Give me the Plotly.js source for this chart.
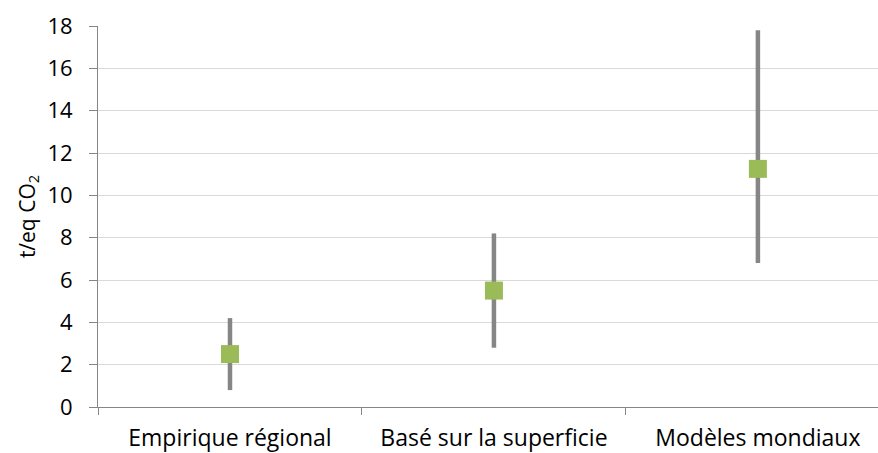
<!DOCTYPE html>
<html>
<head>
<meta charset="utf-8">
<script src="https://cdn.plot.ly/plotly-3.0.1.min.js"></script>
<style>
  html, body { margin: 0; padding: 0; background: #fff; }
  #chart { width: 878px; height: 453px; }
</style>
</head>
<body>
<div id="chart"></div>
<script>
// Estimates of t/eq CO2 by method: central value with low/high range
const categories = ['Empirique régional', 'Basé sur la superficie', 'Modèles mondiaux'];
const central = [2.5, 5.5, 11.25];
const low = [0.8, 2.8, 6.8];
const high = [4.2, 8.2, 17.8];
const yTicks = [0, 2, 4, 6, 8, 10, 12, 14, 16, 18];

const font = '"Open Sans", Lato, "Liberation Sans", sans-serif';

const trace = {
  type: 'scatter',
  mode: 'markers',
  x: categories,
  y: central,
  marker: { symbol: 'square', size: 18, color: '#9BBB59', line: { width: 0 } },
  error_y: {
    type: 'data',
    symmetric: false,
    array: high.map((h, i) => h - central[i]),
    arrayminus: central.map((c, i) => c - low[i]),
    color: '#868686',
    thickness: 4.5,
    width: 0
  },
  hoverinfo: 'x+y'
};

const layout = {
  width: 878,
  height: 453,
  margin: { l: 98, r: 0, t: 26, b: 46 },
  paper_bgcolor: '#ffffff',
  plot_bgcolor: '#ffffff',
  showlegend: false,
  font: { family: font, size: 22, color: '#000' },
  xaxis: {
    type: 'category',
    range: [-0.5, 2.455],
    showgrid: false,
    zeroline: false,
    showline: true,
    linecolor: '#868686',
    linewidth: 1,
    ticks: 'outside',
    tickson: 'boundaries',
    ticklen: 7,
    tickcolor: '#868686',
    ticklabelstandoff: 10,
    tickfont: { family: font, size: 23, color: '#000' }
  },
  yaxis: {
    range: [0, 18],
    tickvals: yTicks,
    showgrid: true,
    gridcolor: '#D9D9D9',
    gridwidth: 1,
    zeroline: false,
    showline: true,
    linecolor: '#868686',
    linewidth: 1,
    ticks: 'outside',
    ticklen: 8,
    tickcolor: '#868686',
    ticklabelstandoff: 12,
    tickfont: { family: font, size: 22, color: '#000' },
    title: { text: 't/eq CO<sub>2</sub>', font: { family: font, size: 21, color: '#000' }, standoff: 6 }
  }
};

Plotly.newPlot('chart', [trace], layout, { displayModeBar: false, staticPlot: true });
</script>
</body>
</html>
